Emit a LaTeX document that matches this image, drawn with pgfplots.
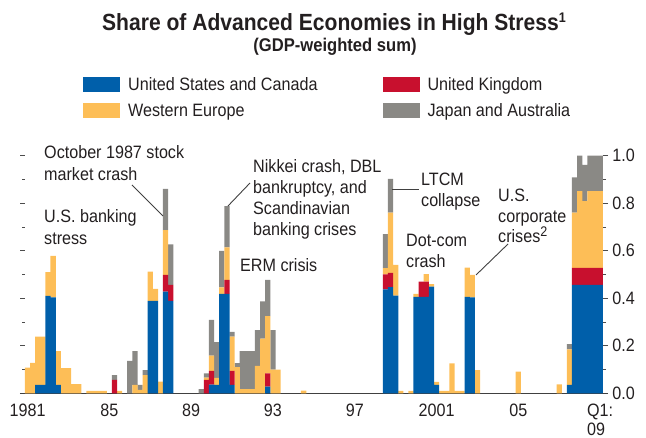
\documentclass[border=0pt]{standalone}
\usepackage{fontspec}
\setmainfont{Liberation Sans}[FakeStretch=0.9]
\usepackage{pgfplots}
\pgfplotsset{compat=1.18}
\usepackage{pgfplotstable}
\definecolor{cblue}{HTML}{005FAA}
\definecolor{cred}{HTML}{C8102E}
\definecolor{cyel}{HTML}{FDBE57}
\definecolor{cgray}{HTML}{8A8985}
\definecolor{ctext}{HTML}{231F20}

% quarter index: 0 = 1981Q1 ... 112 = 2009Q1
\pgfplotstableread{
i   us     uk     we     ja
0   0      0      0.108  0
1   0      0      0.128  0
2   0.035  0      0.203  0
3   0.035  0      0.203  0
4   0.41   0      0.10   0
5   0.404  0      0.174  0
6   0.035  0      0.143  0
7   0      0      0.106  0
8   0      0      0.106  0
9   0      0      0.039  0
10  0      0      0.039  0
12  0      0      0.01   0
13  0      0      0.01   0
14  0      0      0.01   0
15  0      0      0.01   0
17  0      0.056  0      0.021
18  0      0      0.01   0
20  0      0      0      0.136
21  0      0      0.035  0.143
22  0      0      0.014  0.021
23  0      0      0.077  0.021
24  0.389  0      0.123  0
25  0.389  0      0.05   0
26  0      0      0.049  0
27  0.428  0.07   0.189  0.173
28  0.389  0.067  0      0.171
34  0      0      0      0.018
35  0      0.056  0.01   0.018
36  0.036  0.058  0.065  0.15
37  0.035  0      0.03   0.15
38  0.418  0      0.028  0.153
39  0.418  0.059  0.137  0.174
40  0.035  0.059  0.144  0.021
41  0      0      0.11   0.017
42  0      0      0.018  0.16
43  0      0      0.018  0.16
44  0      0      0.018  0.16
45  0      0      0.115  0.151
46  0      0      0.23   0.157
47  0.028  0.056  0.241  0.152
48  0      0      0.1    0.166
49  0      0      0.1    0
54  0      0      0.011  0
70  0.437  0.063  0.027  0.143
71  0.447  0.06   0.253  0.142
72  0.411  0      0.129  0
73  0      0      0.01   0
75  0      0      0.01   0
76  0.406  0      0.012  0
77  0.406  0.064  0      0
78  0.406  0.064  0.032  0
79  0.449  0      0.011  0
80  0.035  0      0.013  0
81  0      0      0.01   0
82  0      0      0.01   0
83  0      0      0.126  0
84  0      0      0.01   0
85  0      0      0.01   0
86  0.406  0      0.123  0
87  0.404  0      0.094  0
88  0      0      0.098  0
96  0      0      0.091  0
104 0      0      0.038  0
106 0.035  0      0.15   0.022
107 0.456  0.072  0.232  0.149
108 0.456  0.072  0.323  0.149
109 0.456  0.072  0.281  0.152
110 0.456  0.072  0.323  0.149
111 0.456  0.072  0.323  0.149
112 0.456  0.072  0.323  0.149
}\stress

\newcommand{\lab}[3]{\node[anchor=base west, inner sep=0pt] at (#1,#2) {#3};}

\begin{document}
\begin{tikzpicture}[font=\fontsize{18}{21}\selectfont, text=ctext]
\begin{axis}[
  scale only axis, width=578.2bp, height=237.6bp,
  xmin=-0.5, xmax=112.6, ymin=0, ymax=1,
  ybar stacked, bar width=1.03,
  axis line style={draw=none},
  clip=false,
  xtick={0,16,32,48,64,80,96,112},
  xticklabels={1981,85,89,93,97,2001,05,{Q1:\\09}},
  x tick style={draw=none},
  xticklabel style={align=left, inner sep=0pt, yshift=-5bp, text=ctext, font=\fontsize{18}{19.5}\selectfont},
  ytick={0,0.2,0.4,0.6,0.8,1},
  minor ytick={0.1,0.3,0.5,0.7,0.9},
  ytick pos=both, yticklabel pos=right,
  tick align=outside,
  major tick length=5bp, minor tick length=3bp,
  y tick style={draw=black!70, line width=0.8bp},
  /pgf/number format/assume math mode=true,
  yticklabel style={/pgf/number format/.cd, fixed, fixed zerofill, precision=1, /tikz/.cd, inner sep=0pt, xshift=4bp, text=ctext},
  legend columns=2,
  legend style={draw=none, fill=none, at={(55bp,318bp)}, anchor=north west,
    nodes={inner sep=0pt, text height=13bp, text depth=3bp, anchor=base west},
    column sep=8bp, row sep=10bp,
    /tikz/every even column/.append style={column sep=65bp}},
  lg/.style={legend image code/.code={\fill[##1, draw=none] (0bp,-2bp) rectangle (37bp,13bp);}},
]
\addplot[fill=cblue, draw=none, lg] table[x=i, y=us] {\stress};
\addlegendentry{United States and Canada}
\addplot[fill=cred, draw=none, lg] table[x=i, y=uk] {\stress};
\addlegendentry{United Kingdom}
\addplot[fill=cyel, draw=none, lg] table[x=i, y=we] {\stress};
\addlegendentry{Western Europe}
\addplot[fill=cgray, draw=none, lg] table[x=i, y=ja] {\stress};
\addlegendentry{Japan and Australia}
\draw[line width=1.6bp, color=black!75] (axis cs:-1.5,0) -- (axis cs:113.6,0);
\coordinate (tl) at (rel axis cs:-0.043238,1.655303);
\end{axis}
\begin{scope}[shift={(tl)}, x=1bp, y=-1bp]
  \node[anchor=base, inner sep=0pt, font=\bfseries\fontsize{23.5}{28}\selectfont] at (334,31)
    {Share of Advanced Economies in High Stress\raisebox{8bp}{\fontsize{14}{14}\selectfont 1}};
  \node[anchor=base, inner sep=0pt, font=\bfseries\fontsize{18.5}{21}\selectfont] at (335,52) {(GDP-weighted sum)};
  \lab{44}{159}{October 1987 stock}
  \lab{44}{181}{market crash}
  \lab{44}{223}{U.S. banking}
  \lab{44}{245}{stress}
  \lab{253}{173}{Nikkei crash, DBL}
  \lab{253}{194}{bankruptcy, and}
  \lab{253}{215}{Scandinavian}
  \lab{253}{236}{banking crises}
  \lab{240}{272}{ERM crisis}
  \lab{421}{186}{LTCM}
  \lab{421}{207}{collapse}
  \lab{406}{247}{Dot-com}
  \lab{406}{268}{crash}
  \lab{498}{202}{U.S.}
  \lab{498}{223}{corporate}
  \lab{498}{243}{crises\raisebox{6bp}{\fontsize{14}{14}\selectfont 2}}
  \draw[black!75, line width=0.9bp] (132,185) -- (163,216);
  \draw[black!75, line width=0.9bp] (250,183) -- (228,206);
  \draw[black!75, line width=0.9bp] (392,189) -- (419,189);
  \draw[black!75, line width=0.9bp] (508,244) -- (476,275);
  \pgfresetboundingbox
  \path (0,0) rectangle (646,438);
\end{scope}
\end{tikzpicture}
\end{document}
